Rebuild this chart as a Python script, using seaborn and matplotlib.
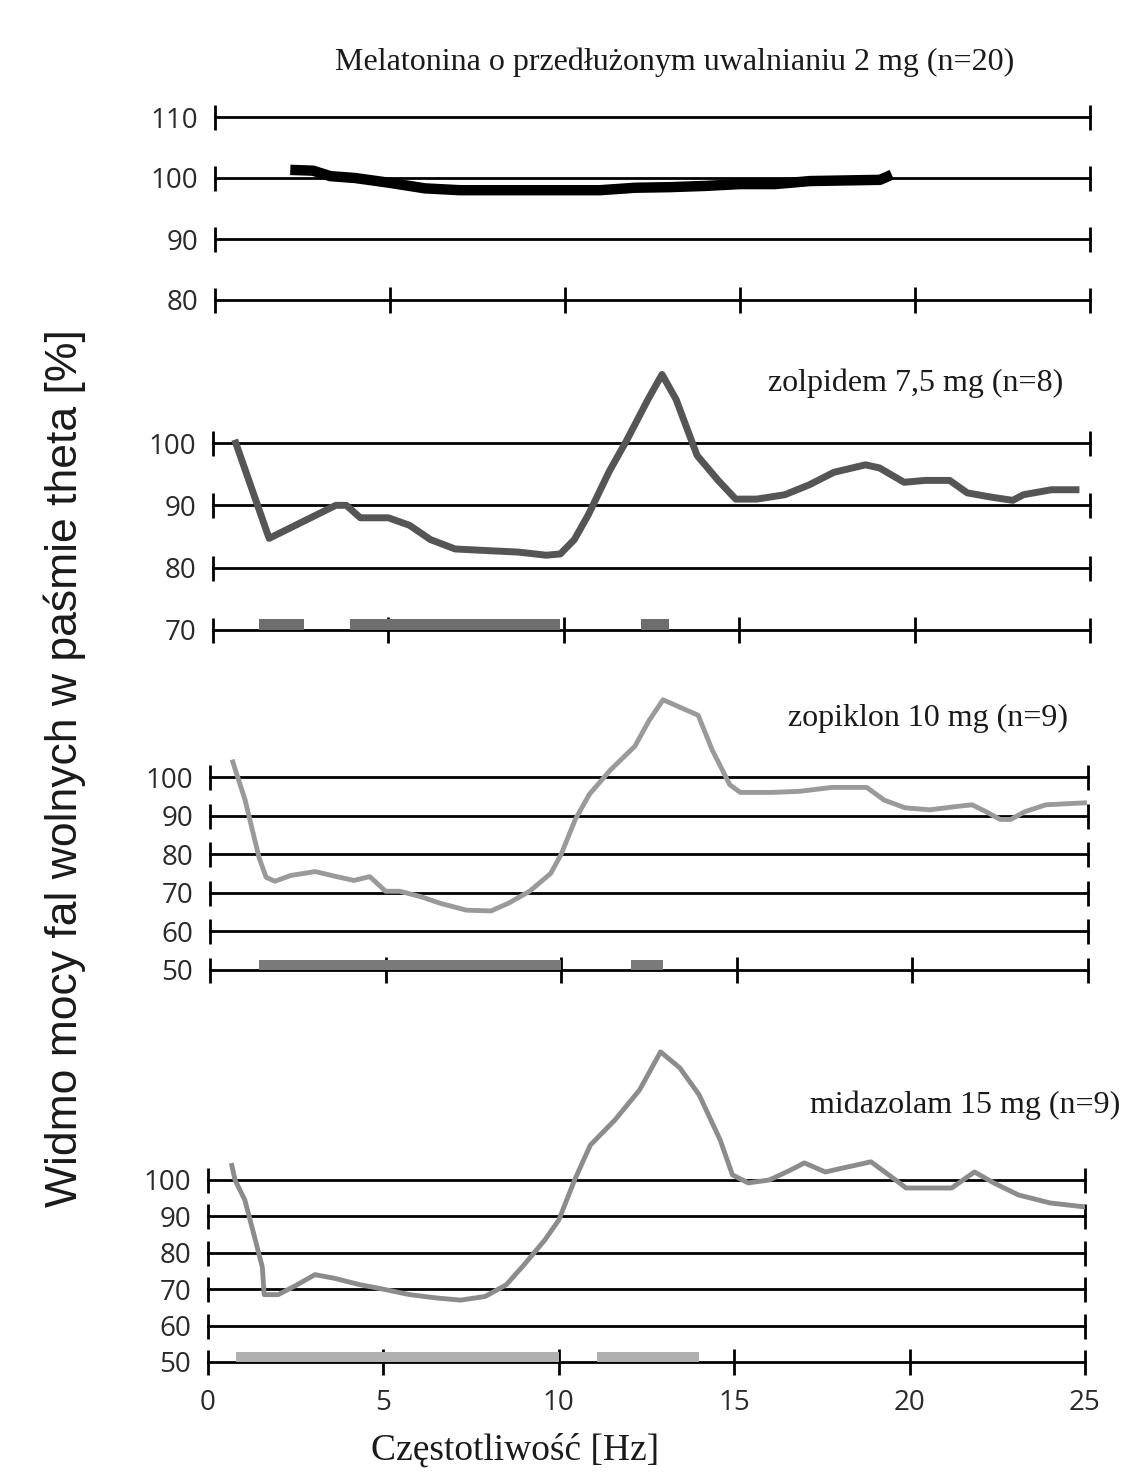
import matplotlib
matplotlib.use("Agg")
import matplotlib.pyplot as plt
import seaborn as sns
import numpy as np

# ---- data ----
freq_ticks = [0, 5, 10, 15, 20, 25]

mel_title = "Melatonina o przedłużonym uwalnianiu 2 mg (n=20)"
mel_yticks = [80, 90, 100, 110]
mel_x = [2.3, 2.8, 3.3, 4.0, 5.0, 6.0, 7.0, 8.0, 9.0, 10.0, 11.0, 12.0,
         13.0, 14.0, 15.0, 16.0, 17.0, 18.0, 19.0, 19.2]
mel_y = [101.3, 101.2, 100.3, 100.0, 99.2, 98.3, 98.0, 98.0, 98.0, 98.0,
         98.0, 98.4, 98.5, 98.7, 99.0, 99.0, 99.5, 99.6, 99.7, 100.2]

zol_title = "zolpidem 7,5 mg (n=8)"
zol_yticks = [70, 80, 90, 100]
zol_x = [0.65, 1.6, 3.5, 3.8, 4.2, 5.0, 5.6, 6.2, 6.9, 7.6, 8.7, 9.5, 9.9,
         10.3, 10.7, 11.3, 11.8, 12.4, 12.8, 13.2, 13.8, 14.4, 14.9, 15.5,
         16.3, 17.0, 17.7, 18.6, 19.0, 19.7, 20.3, 21.0, 21.5, 22.2, 22.8,
         23.1, 23.9, 24.6]
zol_y = [100.0, 84.7, 90.0, 90.0, 88.0, 88.0, 86.8, 84.5, 83.0, 82.8, 82.5,
         82.0, 82.2, 84.5, 88.5, 95.5, 100.5, 107.0, 111.0, 107.0, 98.0, 94.0,
         91.0, 91.0, 91.7, 93.3, 95.3, 96.5, 96.0, 93.7, 94.0, 94.0, 92.0,
         91.3, 90.8, 91.7, 92.5, 92.5]
zol_sig_start = [1.3, 3.9, 12.2]
zol_sig_end = [2.6, 9.9, 13.0]

zop_title = "zopiklon 10 mg (n=9)"
zop_yticks = [50, 60, 70, 80, 90, 100]
zop_x = [0.65, 1.0, 1.4, 1.6, 1.85, 2.3, 3.0, 3.6, 4.1, 4.55, 5.0, 5.4, 6.0,
         6.55, 7.3, 8.0, 8.5, 9.1, 9.7, 10.0, 10.4, 10.8, 11.4, 12.1, 12.5,
         12.9, 13.4, 13.9, 14.3, 14.8, 15.1, 16.0, 16.8, 17.7, 18.7, 19.2,
         19.8, 20.5, 21.2, 21.7, 22.1, 22.5, 22.8, 23.2, 23.8, 24.9]
zop_y = [103.9, 94.0, 79.0, 74.0, 73.0, 74.5, 75.5, 74.2, 73.2, 74.2, 70.4,
         70.4, 69.0, 67.3, 65.5, 65.3, 67.3, 70.4, 75.0, 80.0, 89.0, 95.5,
         101.8, 108.0, 114.6, 120.0, 118.0, 116.0, 107.0, 98.0, 96.0, 96.0,
         96.3, 97.3, 97.3, 94.0, 92.0, 91.5, 92.3, 92.8, 91.0, 89.0, 89.0,
         91.0, 92.8, 93.3]
zop_sig_start = [1.4, 12.0]
zop_sig_end = [10.0, 12.9]

mid_title = "midazolam 15 mg (n=9)"
mid_yticks = [50, 60, 70, 80, 90, 100]
mid_x = [0.68, 0.77, 1.05, 1.35, 1.55, 1.6, 2.0, 2.5, 3.05, 3.6, 4.3, 5.0,
         5.75, 6.5, 7.2, 7.9, 8.5, 9.0, 9.6, 10.0, 10.45, 10.9, 11.6, 12.3,
         12.9, 13.45, 14.0, 14.6, 14.95, 15.4, 16.0, 16.6, 17.0, 17.6, 18.1,
         18.9, 19.6, 19.9, 20.7, 21.2, 21.85, 22.4, 23.1, 24.0, 25.0]
mid_y = [104.0, 100.0, 94.5, 83.5, 76.0, 68.5, 68.5, 71.0, 74.0, 73.0, 71.3,
         70.0, 68.5, 67.6, 67.0, 68.0, 71.2, 76.6, 83.5, 89.0, 100.0, 109.6,
         116.5, 124.7, 135.2, 130.8, 123.4, 111.0, 101.4, 99.2, 100.0, 102.7,
         104.7, 102.2, 103.3, 105.0, 100.0, 97.8, 97.8, 97.8, 102.2, 99.2,
         95.9, 93.7, 92.6]
mid_sig_start = [0.8, 11.1]
mid_sig_end = [10.0, 14.0]

W, H = 1123, 1478
fig = plt.figure(figsize=(W / 100, H / 100), dpi=100)
fig.patch.set_facecolor("white")

tick_font = "Open Sans"
serif_font = "Liberation Serif"


def panel(x0, x25, top_val, top_px, bot_val, bot_px, lo, hi):
    # place an axes so data values land on the pixel rows of the scan
    s = (bot_px - top_px) / (top_val - bot_val)
    ax_top = top_px - (hi - top_val) * s
    ax_bot = bot_px + (bot_val - lo) * s
    ax = fig.add_axes([x0 / W, 1 - ax_bot / H, (x25 - x0) / W, (ax_bot - ax_top) / H])
    ax.set_xlim(0, 25)
    ax.set_ylim(lo, hi)
    for sp in ax.spines.values():
        sp.set_visible(False)
    ax.set_facecolor("none")
    return ax


def grid(ax, yticks, show_xlabels=False):
    for y in yticks:
        ax.plot([freq_ticks[0], freq_ticks[-1]], [y, y], color="black", lw=2.0,
                marker="|", markersize=18, markeredgewidth=2.0, clip_on=False, zorder=1)
    base = min(yticks)
    ax.plot(freq_ticks[1:-1], [base] * (len(freq_ticks) - 2), ls="none", color="black",
            marker="|", markersize=19, markeredgewidth=2.0, clip_on=False, zorder=1)
    ax.set_yticks(yticks)
    ax.set_yticklabels([str(v) for v in yticks], fontfamily=tick_font, fontsize=20,
                       color="#2a2a2a")
    ax.tick_params(axis="y", length=0, pad=12)
    if show_xlabels:
        ax.set_xticks(freq_ticks)
        ax.set_xticklabels([str(v) for v in freq_ticks], fontfamily=tick_font,
                           fontsize=20, color="#2a2a2a")
        ax.tick_params(axis="x", length=0, pad=14)
    else:
        ax.set_xticks([])


def sig_bars(ax, starts, ends, base, height, color):
    widths = [e - s for s, e in zip(starts, ends)]
    ax.bar(starts, [height] * len(starts), width=widths, bottom=base, align="edge",
           color=color, edgecolor=color, lw=0, zorder=2)


# panel 1 - melatonin
ax1 = panel(215, 1090, 110, 117, 80, 300, 78, 113)
grid(ax1, mel_yticks)
sns.lineplot(x=mel_x, y=mel_y, ax=ax1, color="black", lw=7.5, zorder=3)

# panel 2 - zolpidem
ax2 = panel(213, 1090, 100, 443, 70, 630, 68, 113)
grid(ax2, zol_yticks)
sig_bars(ax2, zol_sig_start, zol_sig_end, 70, 1.7, "#6e6e6e")
sns.lineplot(x=zol_x, y=zol_y, ax=ax2, color="#555555", lw=5, zorder=3)

# panel 3 - zopiclone
ax3 = panel(210, 1088, 100, 777, 50, 970, 48, 123)
grid(ax3, zop_yticks)
sig_bars(ax3, zop_sig_start, zop_sig_end, 50, 2.6, "#7a7a7a")
sns.lineplot(x=zop_x, y=zop_y, ax=ax3, color="#9a9a9a", lw=3.5, zorder=3)

# panel 4 - midazolam
ax4 = panel(208, 1085, 100, 1180, 50, 1362, 48, 138)
grid(ax4, mid_yticks, show_xlabels=True)
sig_bars(ax4, mid_sig_start, mid_sig_end, 50, 2.8, "#b0b0b0")
sns.lineplot(x=mid_x, y=mid_y, ax=ax4, color="#8c8c8c", lw=3.5, zorder=3)

# titles and axis labels
fig.text(675 / W, 1 - 62 / H, mel_title, ha="center", va="center",
         fontfamily=serif_font, fontsize=23, color="#1a1a1a")
fig.text(1063 / W, 1 - 383 / H, zol_title, ha="right", va="center",
         fontfamily=serif_font, fontsize=23, color="#1a1a1a")
fig.text(1068 / W, 1 - 718 / H, zop_title, ha="right", va="center",
         fontfamily=serif_font, fontsize=23, color="#1a1a1a")
fig.text(1120 / W, 1 - 1105 / H, mid_title, ha="right", va="center",
         fontfamily=serif_font, fontsize=23, color="#1a1a1a")
fig.text(65 / W, 1 - 768 / H, "Widmo mocy fal wolnych w paśmie theta [%]",
         rotation=90, ha="center", va="center", fontfamily="Liberation Sans",
         fontsize=32, color="#1a1a1a")
fig.text(515 / W, 1 - 1450 / H, "Częstotliwość [Hz]", ha="center", va="center",
         fontfamily=serif_font, fontsize=27, color="#1a1a1a")

fig.savefig("out.png", dpi=100)
